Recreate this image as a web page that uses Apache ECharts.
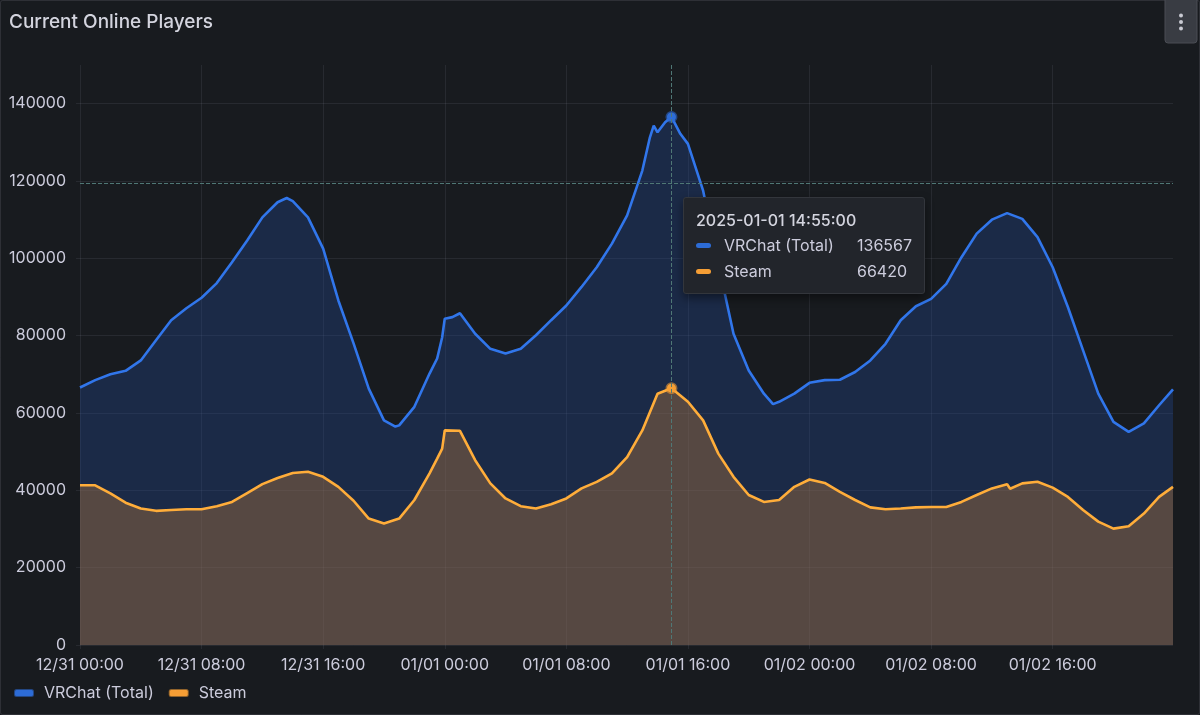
<!DOCTYPE html>
<html>
<head>
<meta charset="utf-8">
<script src="https://cdn.jsdelivr.net/npm/echarts@6/dist/echarts.min.js"></script>
<style>
html,body{margin:0;padding:0;background:#181b1f;}
#chart{width:1200px;height:715px;}
</style>
</head>
<body>
<div id="chart"></div>
<script>
// ---- data (hours since 2024-12-31 00:00) ----
const seriesNames = ['VRChat (Total)', 'Steam'];
const xTickLabels = ['12/31 00:00','12/31 08:00','12/31 16:00','01/01 00:00','01/01 08:00','01/01 16:00','01/02 00:00','01/02 08:00','01/02 16:00'];
const yTickValues = [0,20000,40000,60000,80000,100000,120000,140000];

const vrchatHours = [0,1,2,3,4,5,6,7,8,9,10,11,12,13,13.6,14,15,16,17,18,19,20,20.75,21,22,23,23.5,23.83,24,24.5,25,26,27,28,29,30,31,32,33,34,35,36,37,37.5,37.75,38,38.5,38.9167,39.5,40,41,42,43,44,45,45.6,46,47,48,49,50,51,52,53,54,55,56,57,58,59,60,61,62,63,64,65,66,67,68,69,70,71,71.9167];
const vrchatValues = [66600,68500,70000,70900,73600,78800,84000,87100,89800,93600,99000,104600,110600,114500,115600,114800,110600,102500,89100,78000,66300,58100,56500,56800,61600,70200,74100,79600,84400,84800,85800,80500,76600,75400,76600,80100,84000,87800,92600,97700,103800,111100,122700,131300,134300,132600,135200,136567,132200,129600,117500,98600,80500,71000,65000,62300,62900,65000,67800,68500,68600,70600,73600,77900,84000,87600,89500,93400,100300,106400,110000,111700,110200,105500,97700,87400,76200,65000,57700,55100,57300,62000,66100];

const steamHours = [0,1,2,3,4,5,6,7,8,9,10,11,12,13,14,15,16,17,18,19,20,21,22,23,23.5,23.83,24,25,26,27,28,29,30,31,32,33,34,35,36,37,38,38.9167,40,41,42,43,44,45,46,47,48,49,50,51,52,53,54,55,56,57,58,59,60,61,61.2,62,63,64,65,66,67,68,69,70,71,71.9167];
const steamValues = [41300,41300,39200,36800,35300,34700,34900,35100,35100,35900,37000,39300,41600,43200,44500,44800,43500,40900,37300,32700,31400,32700,37500,44400,48200,50800,55500,55400,47800,41800,37900,35900,35300,36400,37900,40500,42200,44400,48600,55500,65000,66420,62900,58100,49500,43500,38800,37000,37500,40900,42800,41900,39600,37500,35600,35100,35300,35600,35700,35700,37000,38800,40500,41600,40400,41800,42200,40700,38300,34900,31900,30100,30700,34000,38300,40900];

const cursorHour = 38.9167;
const cursorLabel = '2025-01-01 14:55:00';
const cursorY = 119300;

// ---- build ----
const vrchatData = vrchatHours.map((h, i) => [h, vrchatValues[i]]);
const steamData = steamHours.map((h, i) => [h, steamValues[i]]);
const lineColors = ['#2d6cd6', '#f59e35'];
const txt = '#ccccdc';
const gridCol = 'rgba(204,204,220,0.09)';
const FONT = 'Inter, "Noto Sans", sans-serif';

const chart = echarts.init(document.getElementById('chart'), null, {renderer: 'canvas'});
chart.setOption({
  backgroundColor: '#181b1f',
  animation: false,
  textStyle: {fontFamily: FONT},
  grid: {left: 80, right: 27, top: 65, bottom: 70},
  graphic: [
    {type: 'rect', shape: {x: 0.5, y: 0.5, width: 1199, height: 714, r: 2}, style: {fill: 'none', stroke: 'rgba(204,204,220,0.12)', lineWidth: 1}, silent: true},
    {type: 'text', left: 9, top: 13, style: {text: 'Current Online Players', fill: '#d3d4de', font: '500 19px ' + FONT}},
    {type: 'rect', shape: {x: 1165, y: -3, width: 32, height: 46, r: 3}, style: {fill: '#393c43', stroke: '#4a4d54', lineWidth: 1}},
    {type: 'circle', shape: {cx: 1181, cy: 15.5, r: 2}, style: {fill: '#c9cad2'}},
    {type: 'circle', shape: {cx: 1181, cy: 22, r: 2}, style: {fill: '#c9cad2'}},
    {type: 'circle', shape: {cx: 1181, cy: 28.5, r: 2}, style: {fill: '#c9cad2'}}
  ],
  legend: {
    left: 9, top: 680, icon: 'roundRect', itemWidth: 18, itemHeight: 6, itemGap: 15,
    textStyle: {color: txt, fontSize: 16, fontFamily: FONT, padding: [0, 0, 0, 6]},
    data: seriesNames
  },
  tooltip: {
    trigger: 'axis', triggerOn: 'none', alwaysShowContent: true,
    position: [683, 197], transitionDuration: 0,
    backgroundColor: '#22252b', borderColor: '#33363c', borderWidth: 1, padding: [10, 10, 9, 12],
    extraCssText: 'box-shadow:0 4px 10px rgba(0,0,0,0.45);border-radius:3px;',
    textStyle: {color: txt, fontFamily: FONT, fontSize: 16},
    axisPointer: {type: 'line', animation: false, lineStyle: {color: '#4f7775', type: 'dashed', width: 1}},
    formatter: function (params) {
      let html = '<div style="line-height:24px;font-weight:500;color:#d3d4de">' + cursorLabel + '</div>';
      params.forEach(p => {
        html += '<div style="display:flex;align-items:center;line-height:26px;height:26px">' +
          '<span style="display:inline-block;width:15px;height:5px;border-radius:3px;background:' + lineColors[p.seriesIndex] + ';margin-right:13px"></span>' +
          '<span style="display:inline-block;width:133px">' + p.seriesName + '</span>' +
          '<span style="display:inline-block;width:57px">' + p.value[1] + '</span></div>';
      });
      return html;
    }
  },
  xAxis: {
    type: 'value', min: 0, max: 71.9167, interval: 8,
    axisLine: {show: false},
    axisTick: {show: true, length: 4, lineStyle: {color: gridCol}},
    axisLabel: {color: txt, fontSize: 16, fontFamily: FONT, margin: 12, showMaxLabel: false,
      formatter: v => xTickLabels[Math.round(v / 8)] || ''},
    splitLine: {show: true, showMaxLine: false, lineStyle: {color: gridCol}}
  },
  yAxis: {
    type: 'value', min: 0, max: 150000, interval: 20000,
    axisLine: {show: false},
    axisTick: {show: true, length: 4, lineStyle: {color: gridCol}},
    axisLabel: {color: txt, fontSize: 16, fontFamily: FONT, margin: 14, showMaxLabel: false,
      formatter: v => (yTickValues.indexOf(v) >= 0 ? String(v) : '')},
    splitLine: {show: true, showMaxLine: false, lineStyle: {color: gridCol}}
  },
  series: [
    {
      name: seriesNames[0], type: 'line', data: vrchatData,
      showSymbol: false, symbol: 'circle', symbolSize: 9,
      lineStyle: {color: lineColors[0], width: 2.6},
      itemStyle: {color: lineColors[0], borderColor: 'rgba(45,108,214,0.55)', borderWidth: 3},
      areaStyle: {color: 'rgba(30,66,132,0.5)'},
      emphasis: {scale: false, focus: 'none'},
      markLine: {
        silent: true, symbol: 'none', label: {show: false},
        lineStyle: {color: '#4f7775', type: 'dashed', width: 1},
        data: [{yAxis: cursorY}]
      }
    },
    {
      name: seriesNames[1], type: 'line', data: steamData,
      showSymbol: false, symbol: 'circle', symbolSize: 9,
      lineStyle: {color: lineColors[1], width: 2.6},
      itemStyle: {color: lineColors[1], borderColor: 'rgba(245,158,53,0.55)', borderWidth: 3},
      areaStyle: {color: 'rgba(178,116,52,0.5)'},
      emphasis: {scale: false, focus: 'none'}
    }
  ]
});

const idx = vrchatHours.indexOf(cursorHour);
chart.dispatchAction({type: 'showTip', seriesIndex: 0, dataIndex: idx});
</script>
</body>
</html>
